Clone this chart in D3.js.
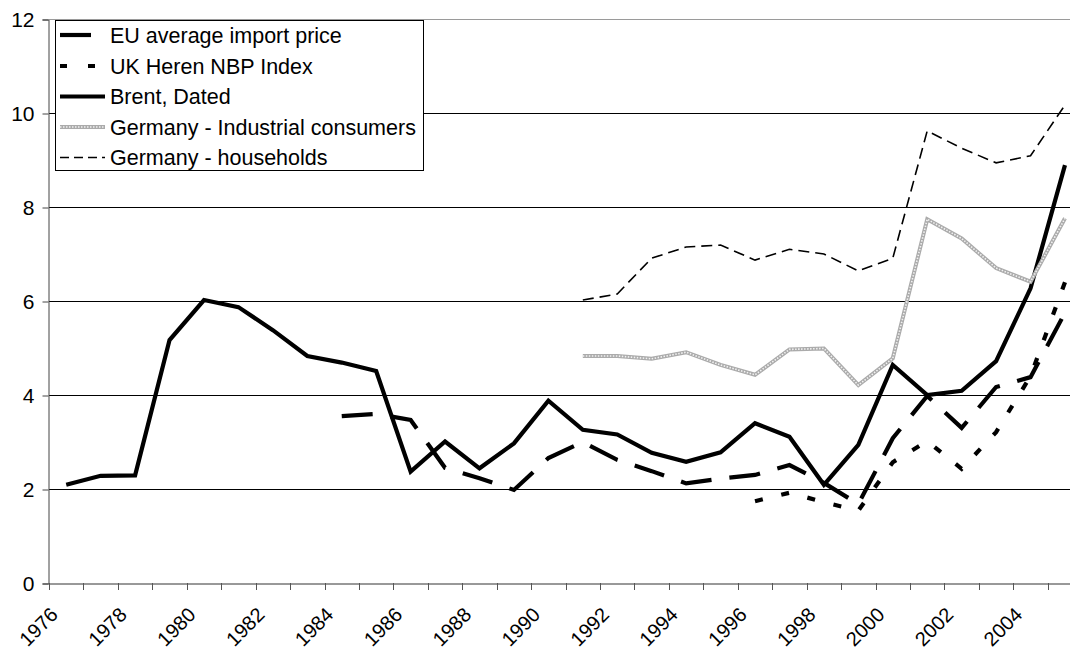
<!DOCTYPE html>
<meta charset="utf-8">
<script src="https://d3js.org/d3.v7.min.js"></script>
<style>
  body { margin: 0; background: #fff; }
  text { font-family: "Liberation Sans", Arial, sans-serif; fill: #000; }
</style>
<div id="chart"></div>
<script>
// categories
var years = [1976, 1977, 1978, 1979, 1980, 1981, 1982, 1983, 1984, 1985,
             1986, 1987, 1988, 1989, 1990, 1991, 1992, 1993, 1994, 1995,
             1996, 1997, 1998, 1999, 2000, 2001, 2002, 2003, 2004, 2005];
var yTicks = [0, 2, 4, 6, 8, 10, 12];

// series values (first year of each series given separately)
var brentStart = 1976;
var brent = [2.09, 2.28, 2.29, 5.17, 6.02, 5.87, 5.38, 4.83, 4.69, 4.51,
             2.37, 3.01, 2.44, 2.97, 3.88, 3.26, 3.16, 2.77, 2.58, 2.78,
             3.40, 3.11, 2.09, 2.94, 4.64, 4.00, 4.09, 4.72, 6.27, 8.89];
var euStart = 1984;
var euImport = [3.55, 3.60, 3.47, 2.45, 2.23, 1.98, 2.66, 3.00, 2.62, 2.38, 2.12,
                2.22, 2.30, 2.51, 2.13, 1.68, 3.08, 3.98, 3.30, 4.17, 4.38, 5.75];
var ukStart = 1996;
var ukNbp = [1.74, 1.92, 1.72, 1.54, 2.57, 3.02, 2.43, 3.21, 4.40, 6.40];
var gerStart = 1991;
var gerIndustry = [4.83, 4.83, 4.77, 4.91, 4.64, 4.43, 4.97, 4.99, 4.21, 4.78,
                   7.74, 7.33, 6.70, 6.41, 7.76];
var gerHouse = [6.02, 6.15, 6.91, 7.15, 7.19, 6.87, 7.10, 7.00, 6.64, 6.91,
                9.62, 9.25, 8.94, 9.09, 10.17];

var W = 1070, H = 651;
var plotLeft = 49, plotTop = 19, plotBottom = 583;

var svg = d3.select("#chart").append("svg")
    .attr("width", W)
    .attr("height", H);

// x is a category axis, the plot runs past the right edge of the picture
var x = d3.scaleBand()
    .domain(years)
    .range([plotLeft, plotLeft + 30 * 34.44]);

var y = d3.scaleLinear()
    .domain([0, 12])
    .range([plotBottom, plotTop]);

// gridlines
svg.append("g")
  .selectAll("line")
  .data(yTicks.filter(d => d > 0))
  .enter().append("line")
    .attr("x1", plotLeft)
    .attr("x2", W)
    .attr("y1", d => Math.round(y(d)) + 0.5)
    .attr("y2", d => Math.round(y(d)) + 0.5)
    .attr("stroke", d => d == 12 ? "#9a9a9a" : "#000")
    .attr("stroke-width", 1);

// y axis
var yAxis = svg.append("g")
    .attr("transform", "translate(" + (plotLeft - 0.5) + ",0.5)")
    .call(d3.axisLeft(y).tickValues(yTicks).tickSize(6).tickPadding(8));
yAxis.select(".domain").attr("stroke", "#444");
yAxis.selectAll(".tick line").attr("stroke", "#444");
yAxis.selectAll("text")
    .style("font-size", "21px")
    .attr("fill", "#000");

// x axis
var xAxis = svg.append("g")
    .attr("transform", "translate(0," + (plotBottom + 0.5) + ")")
    .call(d3.axisBottom(x).tickSize(0).tickFormat(""));
xAxis.select(".domain").attr("stroke", "#333");

// ticks sit on the category boundaries
svg.append("g")
  .selectAll("line")
  .data(years.concat([2006]))
  .enter().append("line")
    .attr("x1", d => Math.round(x.range()[0] + (d - 1976) * x.step()) + 0.5)
    .attr("x2", d => Math.round(x.range()[0] + (d - 1976) * x.step()) + 0.5)
    .attr("y1", plotBottom)
    .attr("y2", plotBottom + 7)
    .attr("stroke", "#555");

svg.append("g")
  .selectAll("text")
  .data(years.filter(d => d % 2 == 0))
  .enter().append("text")
    .attr("transform", d => "translate(" + (x(d) + x.bandwidth() / 2 - 7) + ",616) rotate(-45)")
    .attr("text-anchor", "end")
    .style("font-size", "20px")
    .text(d => d);

// lines
function toPoints(start, values) {
  return values.map((v, i) => ({year: start + i, value: v}));
}
var line = d3.line()
    .x(d => x(d.year) + x.bandwidth() / 2)
    .y(d => y(d.value));

var series = [
  {name: "EU average import price", pts: toPoints(euStart, euImport),
   color: "#000", width: 4.2, dash: "31,18"},
  {name: "UK Heren NBP Index", pts: toPoints(ukStart, ukNbp),
   color: "#000", width: 4.2, dash: "8,19"},
  {name: "Brent, Dated", pts: toPoints(brentStart, brent),
   color: "#000", width: 4.2, dash: null},
  {name: "Germany - Industrial consumers", pts: toPoints(gerStart, gerIndustry),
   color: "#ababab", width: 4, dash: null, inner: "#f2f2f2"},
  {name: "Germany - households", pts: toPoints(gerStart, gerHouse),
   color: "#000", width: 1.6, dash: "11,6"}
];

series.forEach(function(s) {
  svg.append("path")
    .datum(s.pts)
    .attr("d", line)
    .attr("fill", "none")
    .attr("stroke", s.color)
    .attr("stroke-width", s.width)
    .attr("stroke-dasharray", s.dash)
    .attr("stroke-linejoin", "miter");
  if (s.inner) {
    svg.append("path")
      .datum(s.pts)
      .attr("d", line)
      .attr("fill", "none")
      .attr("stroke", s.inner)
      .attr("stroke-width", 1.6)
      .attr("stroke-dasharray", "1.5,1.5");
  }
});

// legend
var legend = svg.append("g");
legend.append("rect")
    .attr("x", 55.5)
    .attr("y", 20.5)
    .attr("width", 368)
    .attr("height", 150)
    .attr("fill", "#fff")
    .attr("stroke", "#000");

var rowY = [35, 66, 96.5, 127, 157.5];
series.forEach(function(s, i) {
  var ly = rowY[i];
  legend.append("line")
    .attr("x1", 60).attr("x2", 105)
    .attr("y1", ly).attr("y2", ly)
    .attr("stroke", s.color)
    .attr("stroke-width", s.width)
    .attr("stroke-dasharray", s.dash == "8,19" ? "7,21" : s.dash == "11,6" ? "9,5" : s.dash);
  if (s.inner) {
    legend.append("line")
      .attr("x1", 60).attr("x2", 105)
      .attr("y1", ly).attr("y2", ly)
      .attr("stroke", s.inner)
      .attr("stroke-width", 1.6)
      .attr("stroke-dasharray", "1.5,1.5");
  }
  legend.append("text")
    .attr("x", 110)
    .attr("y", ly)
    .attr("dy", "0.35em")
    .style("font-size", "21.5px")
    .text(s.name);
});
</script>
